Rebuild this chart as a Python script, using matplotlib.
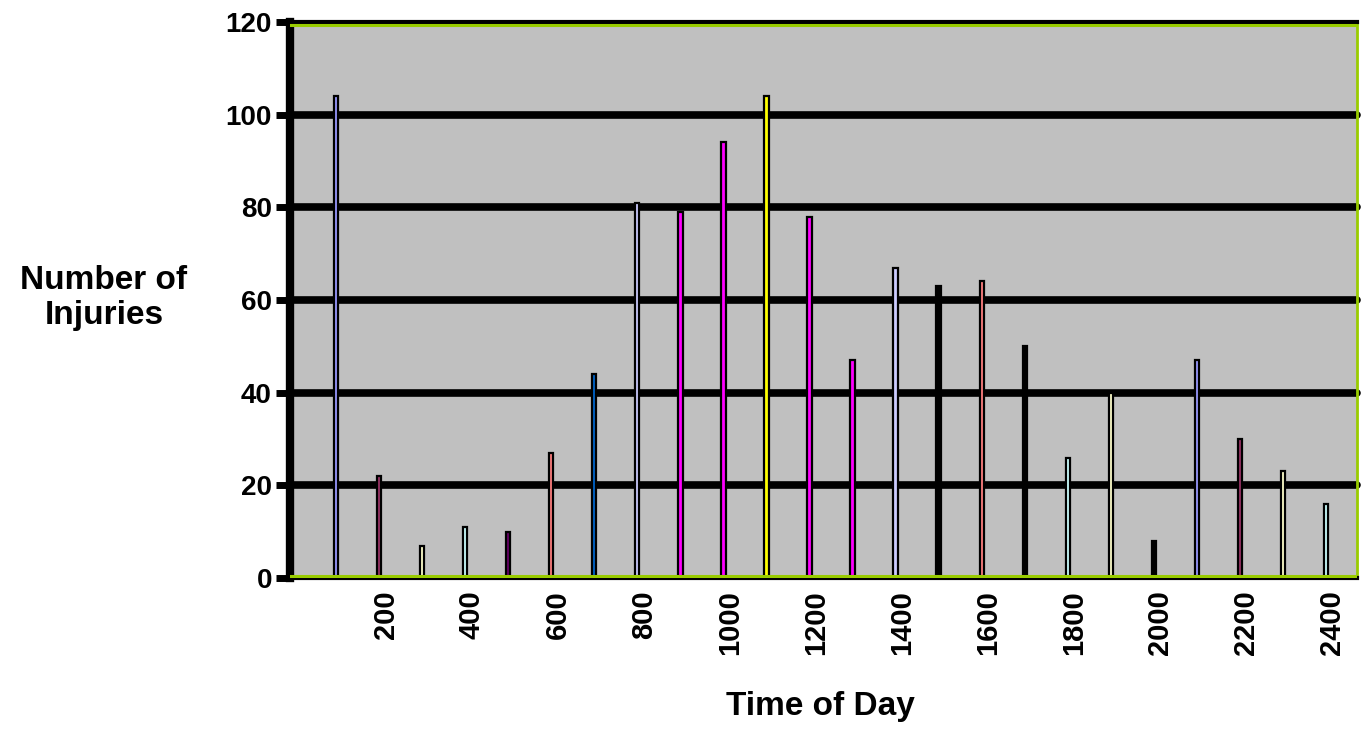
import numpy as np
import matplotlib
matplotlib.use("Agg")
import matplotlib.pyplot as plt

plt.rcParams['font.family'] = ['Liberation Sans', 'DejaVu Sans']
plt.rcParams['font.weight'] = 'bold'

## injuries by hour of day (100 = 1am ... 2400 = midnight)
hours = np.arange(100, 2500, 100)
injuries = [104, 22, 7, 11, 10, 27, 44, 81, 79, 94, 104, 78,
            47, 67, 63, 64, 50, 26, 40, 8, 47, 30, 23, 16]
bar_colors = ['#9999FF', '#993366', '#FFFFCC', '#CCFFFF', '#660066', '#FF8080',
              '#0066CC', '#CCCCFF', '#FF00FF', '#FF00FF', '#FFFF00', '#FF00FF',
              '#FF00FF', '#CCCCFF', '#000000', '#FF8080', '#000000', '#CCFFFF',
              '#FFFFCC', '#000000', '#9999FF', '#993366', '#FFFFCC', '#CCFFFF']
y_ticks = [0, 20, 40, 60, 80, 100, 120]

GREEN = '#99CC00'

fig = plt.figure(figsize=(13.67, 7.32), dpi=100)
ax = fig.add_axes([290/1367, 1 - 578/732, (1357-290)/1367, (578-22)/732])
ax.set_facecolor('#C0C0C0')

x = np.arange(len(hours))
ax.bar(x, injuries, width=0.1, color=bar_colors, edgecolor='black',
       linewidth=1.6, zorder=3)

## thick black gridlines with round ends
for yv in y_ticks[1:-1]:
    ax.axhline(yv, color='black', lw=5.5, solid_capstyle='round', zorder=1,
               clip_on=False)

ax.set_xlim(-1.07, 23.72)
ax.set_ylim(0, 120)

## border: black + green like the old excel look
ax.axhline(0, color='black', lw=3, zorder=4, clip_on=False)
ax.axhline(0.5, color=GREEN, lw=2.2, zorder=4)
ax.axhline(120, color='black', lw=3, zorder=4, clip_on=False)
ax.axhline(119.4, color=GREEN, lw=2.2, zorder=4)
for s in ['top', 'bottom']:
    ax.spines[s].set_visible(False)
ax.spines['right'].set_color(GREEN)
ax.spines['right'].set_linewidth(2)
ax.spines['left'].set_color('black')
ax.spines['left'].set_linewidth(6)

ax.set_yticks(y_ticks)
ax.set_yticklabels([str(v) for v in y_ticks], fontsize=20, fontweight='bold')
ax.tick_params(axis='y', length=10, width=5, color='black', pad=3)

ax.set_xticks(x[1::2] + 0.15)
ax.set_xticklabels([str(h) for h in hours[1::2]], rotation=90, fontsize=21,
                   fontweight='bold')
ax.tick_params(axis='x', length=0, pad=9)

fig.text(104/1367, 1 - 298/732, 'Number of\nInjuries', ha='center', va='center',
         fontsize=24, fontweight='bold', linespacing=1.2)
fig.text(820/1367, 1 - 707/732, 'Time of Day', ha='center', va='center',
         fontsize=24, fontweight='bold')

fig.savefig('out.png', dpi=100)
